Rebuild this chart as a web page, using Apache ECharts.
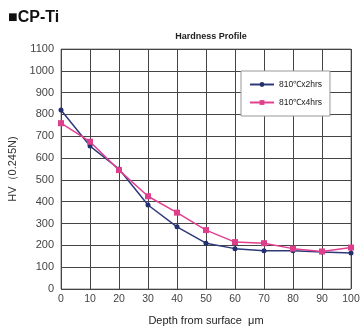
<!DOCTYPE html>
<html><head><meta charset="utf-8">
<script src="https://cdn.jsdelivr.net/npm/echarts@6/dist/echarts.min.js"></script>
<style>html,body{margin:0;padding:0;background:#fff}#c{width:361px;height:327px}</style>
</head><body><div id="c"></div>
<script>
const depths = [0,10,20,30,40,50,60,70,80,90,100];
const hv2hrs = [820,655,550,385,285,210,185,175,175,170,165];
const hv4hrs = [760,675,545,425,350,270,215,210,185,172,190];
const seriesNames = ['810℃x2hrs','810℃x4hrs'];
const pair = (xs, ys) => xs.map((x,i)=>[x, ys[i]]);
const chart = echarts.init(document.getElementById('c'));
chart.setOption({
  animation:false,
  backgroundColor:'#fff',
  title:[
    {text:'■CP-Ti', left:3, top:5, textStyle:{fontFamily:'Liberation Sans',fontSize:16,fontWeight:'bold',color:'#111'}},
    {text:'Hardness Profile', left:206, textAlign:'center', top:27, textStyle:{fontFamily:'Liberation Sans',fontSize:9,fontWeight:'bold',color:'#222'}}
  ],
  grid:{left:61,right:10,top:49,bottom:38,show:true,borderColor:'#888',borderWidth:1,outerBoundsMode:'none',containLabel:false},
  legend:{
    orient:'vertical', left:241, top:71, width:88,
    padding:[9,8,9,8], itemGap:9, itemWidth:24, itemHeight:6,
    backgroundColor:'#fff', borderColor:'#999', borderWidth:1,
    textStyle:{fontFamily:'Liberation Sans',fontSize:8.5,color:'#222'},
    data:seriesNames
  },
  xAxis:{type:'value',min:0,max:100,interval:10,
    name:'Depth from surface  μm', nameLocation:'middle', nameGap:26,
    nameTextStyle:{fontFamily:'Liberation Sans',fontSize:11,color:'#222'},
    axisLine:{show:false}, axisTick:{show:false},
    axisLabel:{fontFamily:'Liberation Sans',fontSize:10.5,color:'#444',margin:5,formatter:v=>String(v)},
    splitLine:{show:true,lineStyle:{color:'#444',width:1}}
  },
  yAxis:{type:'value',min:0,max:1100,interval:100,
    name:'HV（0.245N)', nameLocation:'middle', nameGap:37,
    nameTextStyle:{fontFamily:'Liberation Sans',fontSize:11,color:'#333'},
    axisLine:{show:false}, axisTick:{show:false},
    axisLabel:{fontFamily:'Liberation Sans',fontSize:11,color:'#444',margin:7,formatter:v=>String(v)},
    splitLine:{show:true,lineStyle:{color:'#444',width:1}}
  },
  series:[
    {name:seriesNames[0],type:'line',data:pair(depths,hv2hrs),symbol:'circle',symbolSize:5,
      lineStyle:{color:'#2e3a78',width:1.5},itemStyle:{color:'#23306e'}},
    {name:seriesNames[1],type:'line',data:pair(depths,hv4hrs),symbol:'rect',symbolSize:6,
      lineStyle:{color:'#e0408f',width:1.5},itemStyle:{color:'#de3f8c'}}
  ]
});
</script></body></html>
